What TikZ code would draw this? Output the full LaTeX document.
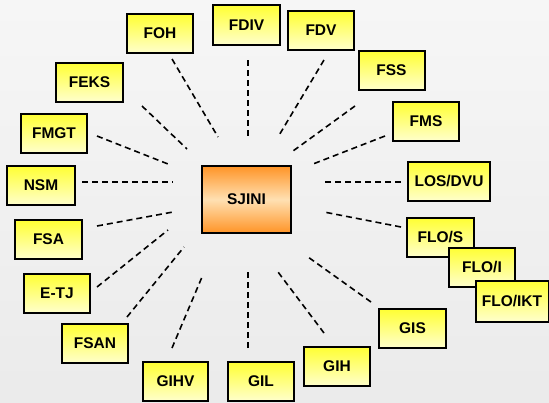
\documentclass[tikz,border=0pt]{standalone}
\usepackage{fontspec}
\setmainfont{Liberation Sans}
\usetikzlibrary{shadows}
\definecolor{bgtop}{rgb}{0.965,0.965,0.965}
\definecolor{bgbot}{rgb}{0.92,0.92,0.92}
\definecolor{yeltop}{rgb}{1,1,0.2}
\definecolor{yelbot}{rgb}{1,1,0.8}
\definecolor{orgout}{rgb}{1,0.58,0.15}
\definecolor{orgmid}{rgb}{1,0.88,0.7}
\tikzset{
    unit/.style = {draw=black, line width=2pt, top color=yeltop, bottom color=yelbot,
        minimum width=66pt, minimum height=39pt, inner sep=0pt,
        font=\fontsize{15.5}{16}\selectfont\bfseries,
        drop shadow={shadow xshift=1.2pt, shadow yshift=-1.2pt, opacity=0.25}},
    hub/.style = {unit, top color=orgout, bottom color=orgout, middle color=orgmid,
        minimum width=89pt, minimum height=67pt},
    spoke/.style = {line width=1.6pt, dash pattern=on 6pt off 4pt}
}

\begin{document}
\begin{tikzpicture}[x=1pt,y=-1pt]
\shade[top color=bgtop, bottom color=bgbot] (0,0) rectangle (549,402);
\useasboundingbox (0,0) rectangle (549,402);

% boxes
\node [hub] (sjini) at (246.5,199.5) {SJINI};
\node [unit] (foh) at (160,33.5) {FOH};
\node [unit, minimum width=67pt, minimum height=40pt] (fdiv) at (246.5,25) {FDIV};
\node [unit] (fdv) at (321,30.5) {FDV};
\node [unit] (fss) at (391.5,70.5) {FSS};
\node [unit] (fms) at (426,121.5) {FMS};
\node [unit, minimum width=82pt] (losdvu) at (449,181.5) {LOS/DVU};
\node [unit, minimum width=67pt] (flos) at (440.5,237.5) {FLO/S};
\node [unit] (floi) at (482,267) {FLO/I};
\node [unit, minimum width=73pt, minimum height=41pt] (floikt) at (512,301) {FLO/IKT};
\node [unit, minimum width=67pt] (gis) at (412.5,328.5) {GIS};
\node [unit] (gih) at (337,366.5) {GIH};
\node [unit] (gil) at (261,381.5) {GIL};
\node [unit, minimum width=65pt] (gihv) at (175.5,381.5) {GIHV};
\node [unit] (fsan) at (95,343.5) {FSAN};
\node [unit] (etj) at (57,293) {E-TJ};
\node [unit, minimum width=67pt] (fsa) at (48.5,239.5) {FSA};
\node [unit, minimum width=68pt] (nsm) at (41,185.5) {NSM};
\node [unit] (fmgt) at (54,133) {FMGT};
\node [unit, minimum width=67pt] (feks) at (89.5,82) {FEKS};

% spoke ends
\coordinate (foh-o) at (172,59);     \coordinate (foh-i) at (218,137);
\coordinate (fdiv-o) at (248,60);    \coordinate (fdiv-i) at (248,137);
\coordinate (fdv-o) at (324,60);     \coordinate (fdv-i) at (278,137);
\coordinate (fss-o) at (355,106);    \coordinate (fss-i) at (293,151);
\coordinate (fms-o) at (385,136);    \coordinate (fms-i) at (313,164);
\coordinate (losdvu-o) at (401,182); \coordinate (losdvu-i) at (323,182);
\coordinate (flos-o) at (401,227);   \coordinate (flos-i) at (324,212);
\coordinate (gis-o) at (371,302);    \coordinate (gis-i) at (308,257);
\coordinate (gih-o) at (324,333);    \coordinate (gih-i) at (278,272);
\coordinate (gil-o) at (248,348);    \coordinate (gil-i) at (248,272);
\coordinate (gihv-o) at (172,348);   \coordinate (gihv-i) at (202,277);
\coordinate (fsan-o) at (127,317);   \coordinate (fsan-i) at (184,247);
\coordinate (etj-o) at (97,287);     \coordinate (etj-i) at (168,230);
\coordinate (fsa-o) at (97,226);     \coordinate (fsa-i) at (173,212);
\coordinate (nsm-o) at (82,182);     \coordinate (nsm-i) at (173,182);
\coordinate (fmgt-o) at (97,136);    \coordinate (fmgt-i) at (168,164);
\coordinate (feks-o) at (142,106);   \coordinate (feks-i) at (187,149);

% spokes
\draw [spoke] (foh-o) -- (foh-i);
\draw [spoke] (fdiv-o) -- (fdiv-i);
\draw [spoke] (fdv-o) -- (fdv-i);
\draw [spoke] (fss-o) -- (fss-i);
\draw [spoke] (fms-o) -- (fms-i);
\draw [spoke] (losdvu-o) -- (losdvu-i);
\draw [spoke] (flos-o) -- (flos-i);
\draw [spoke] (gis-o) -- (gis-i);
\draw [spoke] (gih-o) -- (gih-i);
\draw [spoke] (gil-o) -- (gil-i);
\draw [spoke] (gihv-o) -- (gihv-i);
\draw [spoke] (fsan-o) -- (fsan-i);
\draw [spoke] (etj-o) -- (etj-i);
\draw [spoke] (fsa-o) -- (fsa-i);
\draw [spoke] (nsm-o) -- (nsm-i);
\draw [spoke] (fmgt-o) -- (fmgt-i);
\draw [spoke] (feks-o) -- (feks-i);
\end{tikzpicture}
\end{document}
